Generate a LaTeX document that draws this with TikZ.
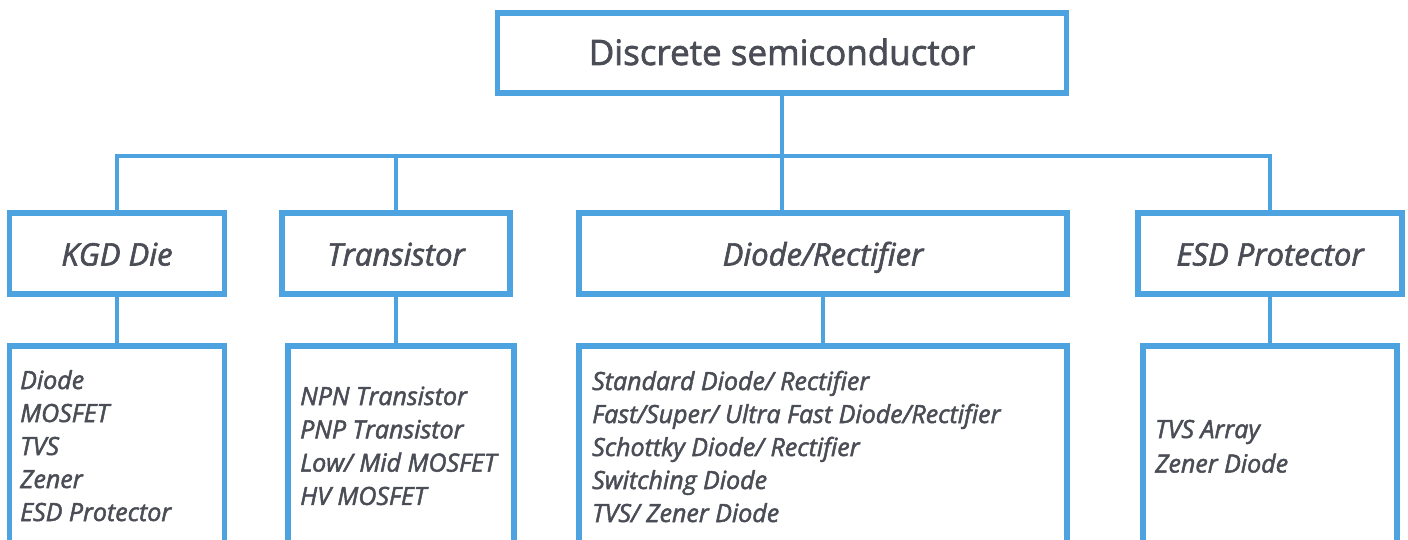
\documentclass[tikz,border=0pt]{standalone}
\usepackage{fontspec}
\setmainfont{Open Sans}[FakeBold=2]
\usetikzlibrary{positioning}
\definecolor{boxblue}{HTML}{4DA3E0}
\definecolor{txtgray}{HTML}{4A4D55}
\tikzset{>=latex}

\begin{document}
\begin{tikzpicture}[x=1pt,y=-1pt,
  box/.style={draw=boxblue,line width=5.5pt,inner sep=0pt,text=txtgray,text height=24pt,text depth=0pt},
  lvltwo/.style={minimum height=81pt,font=\itshape\fontsize{31}{36}\selectfont},
  lvlthree/.style={minimum height=254pt},
  link/.style={draw=boxblue,line width=4pt},
  item/.style={text=txtgray,anchor=base west,inner sep=0pt,font=\itshape\fontsize{25}{30}\selectfont}]
\path[use as bounding box,clip] (0,0) rectangle (1408,540);
\coordinate (bar) at (0,156);
% top
\node[box,minimum width=569pt,minimum height=80pt,font=\fontsize{35}{40}\selectfont] (top) at (782,53) {Discrete semiconductor};
% second row
\node[box,lvltwo,minimum width=215pt] (kgd) at (117,253.5) {KGD Die};
\node[box,lvltwo,minimum width=228pt] (trans) at (396,253.5) {Transistor};
\node[box,lvltwo,minimum width=488pt] (diode) at (823,253.5) {Diode/Rectifier};
\node[box,lvltwo,minimum width=264pt] (esd) at (1270,253.5) {ESD Protector};
% lists
\node[box,lvlthree,minimum width=215pt] (kgdlist) at (117,473) {};
\node[box,lvlthree,minimum width=226pt] (translist) at (401,473) {};
\node[box,lvlthree,minimum width=488pt] (diodelist) at (823,473) {};
\node[box,lvlthree,minimum width=254pt] (esdlist) at (1270,473) {};
% connectors
\draw[link] (top.south) -- (top.south |- diode.north);
\draw[link] (kgd.north) |- (esd.north |- bar) -- (esd.north);
\draw[link] (trans.north) -- (trans.north |- bar);
\draw[link] (kgd.south) -- (kgd.south |- kgdlist.north);
\draw[link] (trans.south) -- (trans.south |- translist.north);
\draw[link] (diode.south) -- (diode.south |- diodelist.north);
\draw[link] (esd.south) -- (esd.south |- esdlist.north);
% items
\foreach \t [count=\i from 0] in {Diode,MOSFET,TVS,Zener,ESD Protector}
  \node[item] (kgdi\i) at (20,389+33*\i) {\t};
\foreach \t [count=\i from 0] in {NPN Transistor,PNP Transistor,Low/ Mid MOSFET,HV MOSFET}
  \node[item] (transi\i) at (300,405+33.3*\i) {\t};
\foreach \t [count=\i from 0] in {Standard Diode/ Rectifier,Fast/Super/ Ultra Fast Diode/Rectifier,Schottky Diode/ Rectifier,Switching Diode,TVS/ Zener Diode}
  \node[item] (diodei\i) at (592,390+33*\i) {\t};
\foreach \t [count=\i from 0] in {TVS Array,Zener Diode}
  \node[item] (esdi\i) at (1155,438+34.5*\i) {\t};
\end{tikzpicture}
\end{document}
